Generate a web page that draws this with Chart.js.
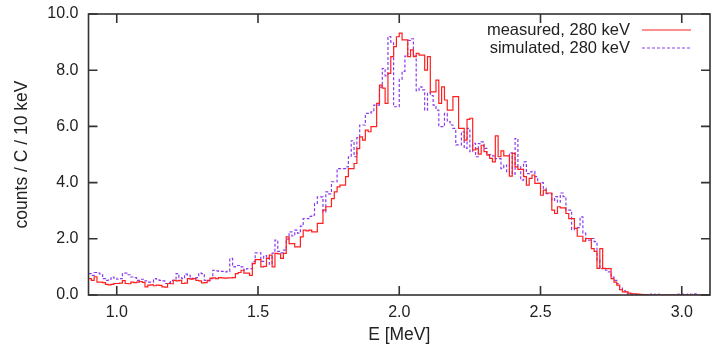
<!DOCTYPE html>
<html>
<head>
<meta charset="utf-8">
<script src="https://cdn.jsdelivr.net/npm/chart.js@4.4.1/dist/chart.umd.min.js"></script>
<style>
html, body { margin: 0; padding: 0; background: #fff; }
</style>
</head>
<body>
<canvas id="spectrum" width="712" height="346"></canvas>
<script>
// histogram bins, 10 keV wide, first bin starts at 0.90 MeV
const binStart = 0.90;
const binWidth = 0.01;
const xTicks = [1.0, 1.5, 2.0, 2.5, 3.0];
const yTicks = [0, 2, 4, 6, 8, 10];
const seriesLabels = ['measured, 280 keV', 'simulated, 280 keV'];

// counts / C / 10 keV (0.90 ... 3.09 MeV)
const measured = [
    0.58, 0.52, 0.65, 0.46, 0.46, 0.44, 0.38, 0.36, 0.38, 0.41,
    0.41, 0.42, 0.51, 0.41, 0.40, 0.46, 0.44, 0.46, 0.48, 0.45,
    0.29, 0.35, 0.36, 0.33, 0.35, 0.34, 0.29, 0.28, 0.41, 0.40,
    0.52, 0.50, 0.52, 0.41, 0.42, 0.58, 0.56, 0.58, 0.52, 0.50,
    0.43, 0.44, 0.52, 0.60, 0.61, 0.58, 0.62, 0.61, 0.60, 0.61,
    0.61, 0.62, 0.76, 0.80, 0.88, 0.78, 0.78, 0.70, 1.12, 1.26,
    1.26, 1.00, 1.02, 1.30, 1.42, 1.00, 1.48, 1.46, 1.30, 1.48,
    2.07, 1.83, 1.83, 1.71, 1.71, 2.07, 2.31, 2.28, 2.31, 2.25,
    2.25, 2.55, 2.55, 3.02, 3.14, 3.14, 3.43, 3.67, 3.85, 3.91,
    3.91, 4.21, 4.50, 4.50, 4.68, 5.21, 5.63, 5.51, 5.87, 5.81,
    5.99, 5.99, 6.82, 7.47, 7.36, 6.82, 7.89, 8.48, 8.84, 9.19,
    9.32, 9.08, 9.08, 8.48, 8.72, 8.48, 8.60, 8.54, 8.54, 8.00,
    8.48, 7.23, 7.23, 7.65, 6.82, 7.41, 6.94, 6.58, 6.58, 7.06,
    7.06, 5.93, 5.93, 5.51, 6.25, 6.29, 5.16, 5.20, 5.01, 5.33,
    5.10, 4.98, 4.86, 4.74, 5.66, 4.92, 5.13, 4.95, 4.95, 4.23,
    5.04, 4.56, 4.47, 4.47, 4.21, 3.91, 4.15, 4.27, 3.97, 3.97,
    3.55, 3.73, 3.63, 3.63, 3.02, 2.90, 3.14, 3.10, 3.10, 2.90,
    2.72, 2.72, 2.37, 2.09, 2.09, 1.92, 2.01, 2.01, 1.65, 1.55,
    0.95, 1.65, 0.95, 0.94, 0.94, 0.58, 0.46, 0.35, 0.19, 0.11,
    0.11, 0.07, 0.04, 0.04, 0.03, 0.02, 0.01, 0.01, 0.00, 0.00,
    0.00, 0.00, 0.00, 0.00, 0.00, 0.00, 0.00, 0.00, 0.00, 0.00,
    0.00, 0.00, 0.00, 0.00, 0.00, 0.00, 0.00, 0.00, 0.00, 0.00
];

const simulated = [
    0.76, 0.70, 0.80, 0.78, 0.72, 0.58, 0.52, 0.56, 0.64, 0.60,
    0.56, 0.58, 0.78, 0.78, 0.72, 0.64, 0.62, 0.52, 0.56, 0.56,
    0.50, 0.46, 0.46, 0.58, 0.56, 0.52, 0.50, 0.41, 0.44, 0.52,
    0.52, 0.76, 0.62, 0.58, 0.74, 0.70, 0.58, 0.60, 0.62, 0.78,
    0.76, 0.52, 0.50, 0.58, 0.88, 0.86, 0.84, 0.84, 0.82, 0.84,
    1.30, 1.00, 1.05, 1.05, 1.00, 0.88, 0.94, 0.94, 1.19, 1.50,
    1.50, 1.20, 1.40, 1.35, 1.10, 1.49, 1.95, 1.55, 1.50, 1.60,
    1.99, 2.25, 2.10, 2.31, 2.20, 2.45, 2.72, 2.72, 2.80, 2.84,
    3.26, 3.49, 3.49, 2.96, 3.67, 3.60, 4.03, 4.03, 4.50, 4.50,
    4.50, 4.56, 4.92, 5.49, 4.92, 5.60, 6.05, 6.05, 6.46, 6.46,
    6.52, 6.76, 6.76, 7.40, 8.06, 7.80, 9.20, 9.00, 6.70, 6.70,
    7.67, 7.96, 8.50, 9.06, 9.12, 8.50, 7.27, 7.41, 7.30, 6.58,
    7.20, 7.10, 6.76, 6.58, 5.99, 5.99, 6.46, 6.17, 6.05, 5.93,
    5.34, 5.34, 5.81, 5.22, 5.93, 5.10, 5.40, 4.92, 5.39, 5.45,
    5.22, 5.00, 5.00, 4.95, 4.85, 4.85, 4.50, 4.62, 4.39, 5.06,
    4.30, 5.57, 4.56, 4.09, 4.74, 4.32, 4.38, 4.40, 4.21, 3.97,
    4.00, 3.80, 3.61, 3.61, 3.37, 3.50, 3.30, 3.63, 3.50, 3.02,
    3.02, 2.33, 2.40, 2.40, 2.78, 2.20, 1.95, 1.95, 2.01, 1.90,
    1.24, 0.94, 0.94, 0.88, 0.82, 0.64, 0.52, 0.40, 0.25, 0.16,
    0.07, 0.04, 0.03, 0.02, 0.01, 0.01, 0.00, 0.00, 0.00, 0.03,
    0.02, 0.03, 0.00, 0.00, 0.00, 0.00, 0.00, 0.00, 0.02, 0.03,
    0.02, 0.00, 0.03, 0.02, 0.04, 0.03, 0.00, 0.00, 0.00, 0.00
];

const textColor = '#222';
const fontFamily = '"Liberation Sans", Arial, sans-serif';
const lineColors = ['#ff1f1f', '#8a3cf0'];

// points at bin left edges, plus one closing point at the last right edge
function toSteps(values) {
    const pts = values.map((v, i) => ({ x: binStart + i * binWidth, y: v }));
    pts.push({ x: binStart + values.length * binWidth, y: values[values.length - 1] });
    return pts;
}

// frame, inward ticks on all four sides, and the key inside the top right corner
const framePlugin = {
    id: 'frame',
    afterDatasetsDraw(chart) {
        const c = chart.ctx;
        const a = chart.chartArea;
        const xs = chart.scales.x;
        const ys = chart.scales.y;
        const tick = 9;
        c.save();
        c.strokeStyle = '#333';
        c.lineWidth = 1.6;
        c.strokeRect(a.left, a.top, a.right - a.left, a.bottom - a.top);
        c.beginPath();
        xTicks.forEach(v => {
            const px = xs.getPixelForValue(v);
            c.moveTo(px, a.bottom); c.lineTo(px, a.bottom - tick);
            c.moveTo(px, a.top); c.lineTo(px, a.top + tick);
        });
        yTicks.forEach(v => {
            const py = ys.getPixelForValue(v);
            c.moveTo(a.left, py); c.lineTo(a.left + tick, py);
            c.moveTo(a.right, py); c.lineTo(a.right - tick, py);
        });
        c.stroke();

        // key
        c.font = '16.5px ' + fontFamily;
        c.fillStyle = textColor;
        c.textAlign = 'right';
        c.textBaseline = 'middle';
        const textRight = a.right - 80;
        seriesLabels.forEach((label, i) => {
            const y = a.top + 16 + i * 18;
            c.fillText(label, textRight, y);
            c.strokeStyle = lineColors[i];
            c.lineWidth = 1.2;
            c.setLineDash(i === 1 ? [3, 2] : []);
            c.beginPath();
            c.moveTo(textRight + 12, y);
            c.lineTo(textRight + 61, y);
            c.stroke();
        });
        c.restore();
    }
};

const ctx = document.getElementById('spectrum').getContext('2d');
const spectrumChart = new Chart(ctx, {
    type: 'line',
    data: {
        datasets: [{
            label: seriesLabels[0],
            data: toSteps(measured),
            borderColor: lineColors[0],
            borderWidth: 1.2,
            stepped: 'before',
            pointRadius: 0,
            fill: false
        }, {
            label: seriesLabels[1],
            data: toSteps(simulated),
            borderColor: lineColors[1],
            borderWidth: 1.2,
            borderDash: [3, 2],
            stepped: 'before',
            pointRadius: 0,
            fill: false
        }]
    },
    options: {
        responsive: false,
        animation: false,
        layout: { padding: { top: 14, right: 2, left: 0, bottom: 0 } },
        plugins: {
            legend: { display: false },
            tooltip: { enabled: false }
        },
        scales: {
            x: {
                type: 'linear',
                min: 0.9,
                max: 3.1,
                afterBuildTicks: s => { s.ticks = xTicks.map(v => ({ value: v })); },
                afterFit: s => { s.height = 51; s.paddingLeft = 0; s.paddingRight = 0; },
                ticks: {
                    callback: v => v.toFixed(1),
                    color: textColor,
                    font: { family: fontFamily, size: 16 },
                    padding: 8,
                    maxRotation: 0
                },
                grid: { display: false, drawTicks: false },
                border: { display: false },
                title: {
                    display: true,
                    text: 'E [MeV]',
                    color: textColor,
                    font: { family: fontFamily, size: 17.5 },
                    padding: { top: 0, bottom: 0 }
                }
            },
            y: {
                min: 0,
                max: 10,
                afterBuildTicks: s => { s.ticks = yTicks.map(v => ({ value: v })); },
                afterFit: s => { s.width = 88.5; s.paddingTop = 0; s.paddingBottom = 0; },
                ticks: {
                    callback: v => v.toFixed(1),
                    color: textColor,
                    font: { family: fontFamily, size: 16 },
                    padding: 10
                },
                grid: { display: false, drawTicks: false },
                border: { display: false },
                title: {
                    display: true,
                    text: 'counts / C / 10 keV',
                    color: textColor,
                    font: { family: fontFamily, size: 17.5 },
                    padding: { top: 12, bottom: 0 }
                }
            }
        }
    },
    plugins: [framePlugin]
});
</script>
</body>
</html>
